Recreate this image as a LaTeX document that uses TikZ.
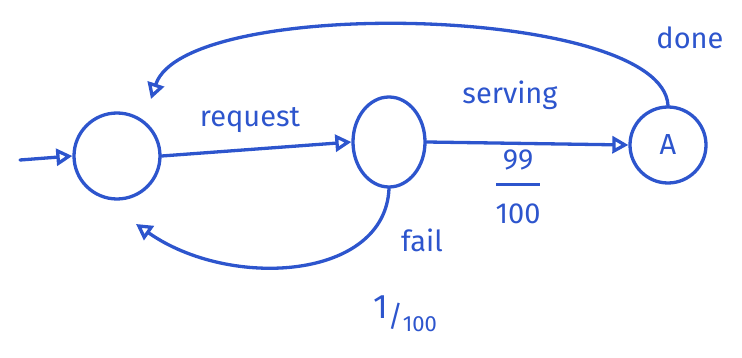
\documentclass[tikz,border=0pt]{standalone}
\usepackage{fontspec}
\setmainfont{Fira Sans}
\usetikzlibrary{arrows.meta,shapes.geometric}
\definecolor{ink}{RGB}{45,85,205}
\tikzset{
  state/.style={draw=ink, line width=3.3pt, circle, inner sep=0pt},
  edge/.style={draw=ink, line width=3.3pt, line cap=round, -{Triangle[open, length=16pt, width=17pt, line width=3.3pt]}},
  lbl/.style={text=ink, font=\fontsize{29}{31}\selectfont, inner sep=0pt},
}
\begin{document}
\begin{tikzpicture}[x=1pt,y=-1pt]
\useasboundingbox (0,0) rectangle (742,358);
\node[state, minimum size=86pt] (s1) at (117,156) {};
\node[state, ellipse, minimum width=72pt, minimum height=90pt] (s2) at (389,142) {};
\node[state, minimum size=76pt, lbl] (sA) at (668,145) {A};
\coordinate (start) at (20,160);
\coordinate (doneend) at (151,99);
\coordinate (failend) at (136,224);

\draw[edge] (start) -- (s1.west);
\draw[edge] (s1.east) -- (s2.west);
\draw[edge] (s2.east) -- (sA.west);
\draw[edge] (sA.north) .. controls (662,5) and (185,-5) .. (doneend);
\draw[edge] (s2.south) .. controls (385,280) and (230,290) .. (failend);

\node[lbl] (lreq) at (250,120) {request};
\node[lbl] (lserv) at (510,95) {serving};
\node[lbl, align=center, anchor=north] (l99) at (518,150) {99\\[-15pt]\rule{44pt}{2.5pt}\\[7pt]100};
\node[lbl] (ldone) at (690,38) {done};
\node[lbl] (lfail) at (422,240) {fail};
\node[lbl] (l1) at (405,314) {\raisebox{8pt}{\fontsize{34}{36}\selectfont 1}/\raisebox{-5pt}{\fontsize{22}{24}\selectfont 100}};
\end{tikzpicture}
\end{document}
